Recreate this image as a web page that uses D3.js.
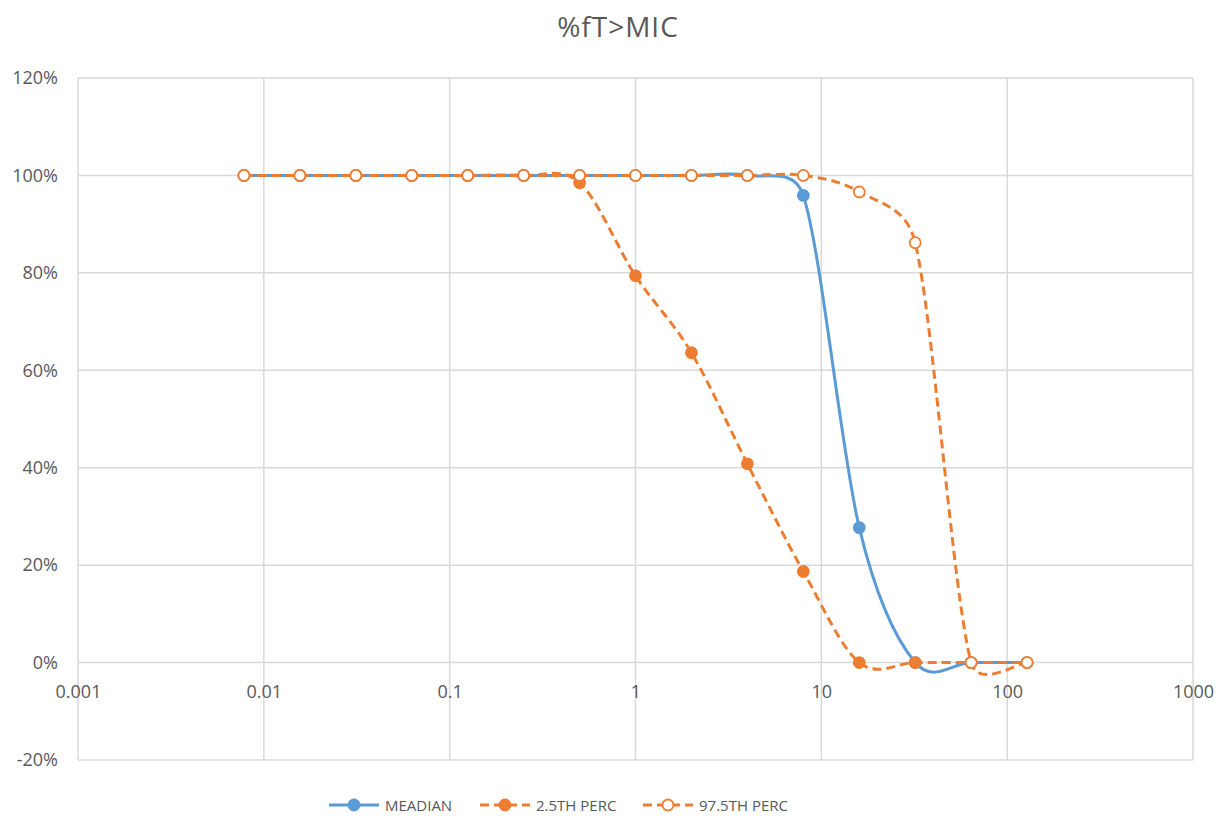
<!DOCTYPE html>
<html>
<head>
<meta charset="utf-8">
<script src="https://cdn.jsdelivr.net/npm/d3@7"></script>
<style>
  html, body { margin: 0; padding: 0; background: #fff; }
  svg { display: block; font-family: "Open Sans", "Liberation Sans", sans-serif; }
</style>
</head>
<body>
<svg id="chart" width="1219" height="816"></svg>
<script>
// MIC values (mg/L), doubling dilutions
const mic = [0.0078125, 0.015625, 0.03125, 0.0625, 0.125, 0.25, 0.5, 1, 2, 4, 8, 16, 32, 64, 128];
// %fT>MIC per series (fraction)
const median   = [1, 1, 1, 1, 1, 1, 1, 1, 1, 1, 0.959, 0.277, 0, 0, 0];
const perc2_5  = [1, 1, 1, 1, 1, 1, 0.985, 0.794, 0.636, 0.408, 0.187, 0, 0, 0, 0];
const perc97_5 = [1, 1, 1, 1, 1, 1, 1, 1, 1, 1, 1, 0.966, 0.862, 0, 0];
const seriesNames = ["MEADIAN", "2.5TH PERC", "97.5TH PERC"];
const xTicks = [0.001, 0.01, 0.1, 1, 10, 100, 1000];
const yTicks = [-0.2, 0, 0.2, 0.4, 0.6, 0.8, 1.0, 1.2];

const blue = "#5B9BD5", orange = "#ED7D31", grid = "#D9D9D9", textCol = "#595959";
const font = "'Open Sans', 'Liberation Sans', sans-serif";

// Spreadsheet-style smoothed line: Catmull-Rom bezier whose control arms
// are limited to half of the segment they belong to.
function curveSmoothClamped(context) {
  let pts = [];
  const dist = (a, b) => Math.hypot(b[0] - a[0], b[1] - a[1]);
  return {
    areaStart() {}, areaEnd() {},
    lineStart() { pts = []; },
    point(px, py) { pts.push([+px, +py]); },
    lineEnd() {
      const n = pts.length;
      if (!n) return;
      context.moveTo(pts[0][0], pts[0][1]);
      for (let i = 0; i < n - 1; i++) {
        const p0 = pts[i - 1] || pts[i], p1 = pts[i], p2 = pts[i + 1], p3 = pts[i + 2] || pts[i + 1];
        const d12 = dist(p1, p2), d02 = dist(p0, p2), d13 = dist(p1, p3);
        const f0 = d02 > 0 ? Math.min(1 / 6, d12 / (2 * d02)) : 0;
        const f3 = d13 > 0 ? Math.min(1 / 6, d12 / (2 * d13)) : 0;
        context.bezierCurveTo(
          p1[0] + f0 * (p2[0] - p0[0]), p1[1] + f0 * (p2[1] - p0[1]),
          p2[0] - f3 * (p3[0] - p1[0]), p2[1] - f3 * (p3[1] - p1[1]),
          p2[0], p2[1]);
      }
    }
  };
}

const svg = d3.select("#chart");
const plot = { left: 78, right: 1193, top: 78, bottom: 760 };

const x = d3.scaleLog().domain([0.001, 1000]).range([plot.left, plot.right]);
const y = d3.scaleLinear().domain([-0.2, 1.2]).range([plot.bottom, plot.top]);

// title
svg.append("text")
  .attr("x", 618).attr("y", 37)
  .attr("text-anchor", "middle")
  .attr("fill", textCol)
  .style("font-size", "28px")
  .style("letter-spacing", "1px")
  .text("%fT>MIC");

// gridlines
const g = svg.append("g");
g.selectAll("line.hg").data(yTicks).join("line").attr("class", "hg")
  .attr("x1", plot.left).attr("x2", plot.right)
  .attr("y1", d => y(d)).attr("y2", d => y(d))
  .attr("stroke", grid).attr("stroke-width", 1.5);
g.selectAll("line.vg").data(xTicks).join("line").attr("class", "vg")
  .attr("y1", plot.top).attr("y2", plot.bottom)
  .attr("x1", d => x(d)).attr("x2", d => x(d))
  .attr("stroke", grid).attr("stroke-width", 1.5);

// y axis labels
const yAxis = d3.axisLeft(y).tickValues(yTicks).tickSize(0).tickPadding(20)
  .tickFormat(d => Math.round(d * 100) + "%");
svg.append("g").attr("transform", `translate(${plot.left},0)`).call(yAxis)
  .call(a => a.select(".domain").remove())
  .call(a => a.selectAll("text").attr("fill", textCol).style("font-size", "18px")
    .style("font-family", font));

// x axis labels sit below the 0% line
const xAxis = d3.axisBottom(x).tickValues(xTicks).tickSize(0).tickPadding(23)
  .tickFormat(d => String(d));
svg.append("g").attr("transform", `translate(0,${y(0)})`).call(xAxis)
  .call(a => a.select(".domain").remove())
  .call(a => a.selectAll("text").attr("fill", textCol).style("font-size", "18px")
    .style("font-family", font));

const line = d3.line()
  .x(d => x(d[0])).y(d => y(d[1]))
  .curve(curveSmoothClamped);

const series = [
  { name: seriesNames[0], values: median,   color: blue,   dash: null,  fill: blue },
  { name: seriesNames[1], values: perc2_5,  color: orange, dash: "9,5", fill: orange },
  { name: seriesNames[2], values: perc97_5, color: orange, dash: "9,5", fill: "#fff" }
];

series.forEach(s => {
  const pts = mic.map((m, i) => [m, s.values[i]]);
  const sg = svg.append("g");
  sg.append("path").datum(pts)
    .attr("d", line)
    .attr("fill", "none")
    .attr("stroke", s.color)
    .attr("stroke-width", 3)
    .attr("stroke-dasharray", s.dash);
  sg.selectAll("circle").data(pts).join("circle")
    .attr("cx", d => x(d[0])).attr("cy", d => y(d[1]))
    .attr("r", 5.5)
    .attr("fill", s.fill)
    .attr("stroke", s.color)
    .attr("stroke-width", 1.8);
});

// legend
const legendItems = [
  { x: 329, label: seriesNames[0], s: series[0] },
  { x: 480, label: seriesNames[1], s: series[1] },
  { x: 643, label: seriesNames[2], s: series[2] }
];
const ly = 805;
legendItems.forEach(it => {
  const lg = svg.append("g");
  lg.append("line")
    .attr("x1", it.x).attr("x2", it.x + 50)
    .attr("y1", ly).attr("y2", ly)
    .attr("stroke", it.s.color).attr("stroke-width", 3)
    .attr("stroke-dasharray", it.s.dash);
  lg.append("circle")
    .attr("cx", it.x + 25).attr("cy", ly).attr("r", 5.5)
    .attr("fill", it.s.fill).attr("stroke", it.s.color).attr("stroke-width", 1.8);
  lg.append("text")
    .attr("x", it.x + 56).attr("y", ly + 5.5)
    .attr("fill", textCol).style("font-size", "15px")
    .text(it.label);
});
</script>
</body>
</html>
